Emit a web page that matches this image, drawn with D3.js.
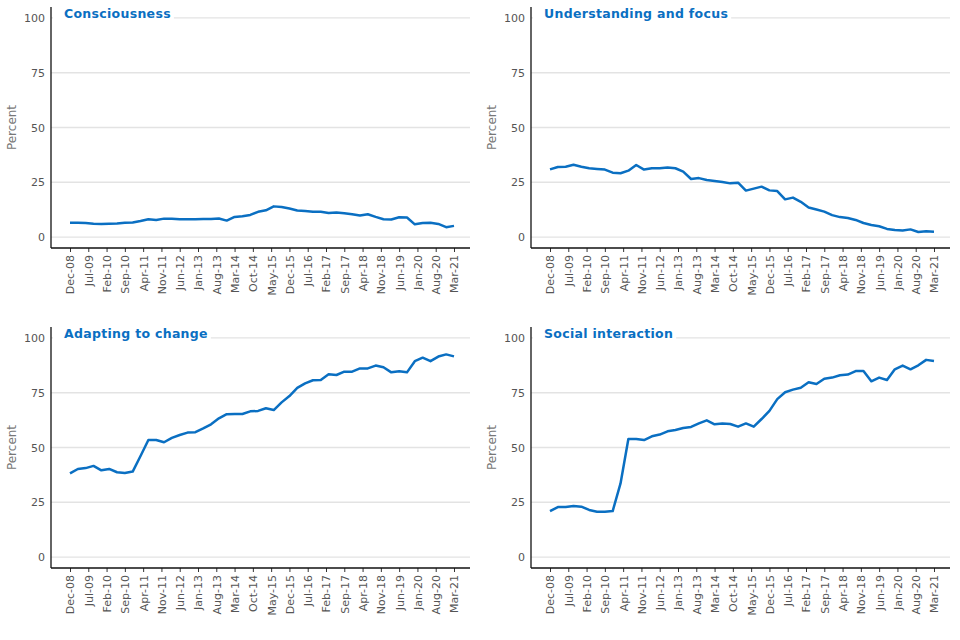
<!DOCTYPE html>
<html>
<head>
<meta charset="utf-8">
<script src="https://cdn.jsdelivr.net/npm/d3@7"></script>
<style>
  body { margin: 0; background: #fff; }
  text { font-family: "DejaVu Sans", sans-serif; }
</style>
</head>
<body>
<script>
// tick labels along the x axis, one every 7 months
const tickLabels = ["Dec-08","Jul-09","Feb-10","Sep-10","Apr-11","Nov-11","Jun-12","Jan-13",
    "Aug-13","Mar-14","Oct-14","May-15","Dec-15","Jul-16","Feb-17","Sep-17","Apr-18",
    "Nov-18","Jun-19","Jan-20","Aug-20","Mar-21"];

const titles = ["Consciousness", "Understanding and focus", "Adapting to change", "Social interaction"];

// quarterly readings, Dec-08 .. Mar-21
const consciousness = [6.5,6.5,6.4,6.1,6.0,6.1,6.2,6.5,6.6,7.3,8.1,7.8,8.4,8.4,8.1,8.1,8.1,8.2,8.2,8.5,
    7.5,9.2,9.5,10.1,11.5,12.2,14.0,13.7,13.0,12.1,11.9,11.6,11.5,11.0,11.2,10.9,10.4,9.8,10.4,9.2,
    8.1,8.0,9.0,8.9,5.8,6.4,6.5,6.0,4.5,5.1];
const understanding = [30.9,32.0,32.1,33.0,32.1,31.4,31.1,30.8,29.4,29.1,30.3,32.9,30.8,31.4,31.4,31.7,31.4,29.9,26.5,26.9,
    26.0,25.6,25.1,24.5,24.8,21.2,22.1,23.0,21.3,21.0,17.2,18.0,16.1,13.5,12.6,11.6,10.0,9.1,8.7,7.8,
    6.4,5.5,4.9,3.7,3.2,3.0,3.5,2.3,2.6,2.4];
const adapting = [38.2,40.2,40.6,41.6,39.6,40.2,38.7,38.4,39.0,46.1,53.4,53.4,52.4,54.4,55.7,56.8,57.0,58.7,60.6,63.3,
    65.2,65.3,65.3,66.5,66.7,67.9,67.1,70.6,73.5,77.2,79.3,80.7,80.8,83.4,83.1,84.6,84.6,86.1,86.1,87.4,
    86.6,84.3,84.8,84.3,89.4,91.0,89.4,91.5,92.5,91.6];
const social = [21.0,22.8,22.8,23.3,23.0,21.5,20.7,20.7,21.0,33.6,53.9,53.9,53.4,55.1,55.9,57.4,58.0,58.9,59.4,61.0,
    62.4,60.6,61.0,60.7,59.5,61.0,59.5,63.0,66.7,72.1,75.2,76.4,77.3,79.8,79.0,81.4,81.9,83.0,83.3,84.9,
    84.9,80.2,81.9,80.8,85.7,87.4,85.7,87.5,90.0,89.5];

const yTicks = [0, 25, 50, 75, 100];

const series = [consciousness, understanding, adapting, social];
const origins = [[51, 7], [531, 7], [51, 327], [531, 327]];

const blue = "#0a6fc2", grey = "#555";
const pw = 419, ph = 241;

const svg = d3.select("body").append("svg")
    .attr("width", 960)
    .attr("height", 640);

// months since Dec-08
const x = d3.scaleLinear().domain([0, 147]).range([19, 403]);
const y = d3.scaleLinear().domain([-5, 105]).range([ph, 0]);

const line = d3.line()
    .x((d, i) => x(i * 3))
    .y(d => y(d));

series.forEach(function(values, k) {
    const g = svg.append("g")
        .attr("transform", "translate(" + origins[k][0] + "," + origins[k][1] + ")");

    // gridlines
    g.selectAll(".grid")
        .data(yTicks)
        .enter().append("line")
        .attr("x1", 0).attr("x2", pw)
        .attr("y1", d => y(d)).attr("y2", d => y(d))
        .attr("stroke", "#e3e3e3")
        .attr("stroke-width", 1.3);

    // y axis labels
    const ya = g.append("g").call(d3.axisLeft(y).tickValues(yTicks).tickSize(0).tickPadding(6));
    ya.select(".domain").remove();
    ya.selectAll("text").attr("fill", grey).style("font-size", "11px");

    // x axis
    const xa = g.append("g")
        .attr("transform", "translate(0," + ph + ")")
        .call(d3.axisBottom(x)
            .tickValues(d3.range(0, 148, 7))
            .tickFormat((d, i) => tickLabels[i])
            .tickSize(4)
            .tickSizeOuter(0));
    xa.select(".domain").remove();
    xa.selectAll("line").attr("stroke", "#333");
    xa.selectAll("text")
        .attr("fill", grey)
        .style("font-size", "11px")
        .attr("transform", "rotate(-90)")
        .attr("text-anchor", "end")
        .attr("x", -7)
        .attr("y", 0)
        .attr("dy", "0.35em");

    // axis lines
    g.append("line").attr("x1", 0).attr("x2", pw).attr("y1", ph).attr("y2", ph)
        .attr("stroke", "#111").attr("stroke-width", 1.3);
    g.append("line").attr("x1", 0).attr("x2", 0).attr("y1", 0).attr("y2", ph)
        .attr("stroke", "#111").attr("stroke-width", 1.3);

    // y title
    g.append("text")
        .attr("transform", "rotate(-90)")
        .attr("x", -y(50))
        .attr("y", -35)
        .attr("text-anchor", "middle")
        .attr("fill", "#777")
        .style("font-size", "12px")
        .text("Percent");

    // data line
    g.append("path")
        .datum(values)
        .attr("fill", "none")
        .attr("stroke", blue)
        .attr("stroke-width", 2.5)
        .attr("stroke-linejoin", "round")
        .attr("d", line);

    // panel title on white patch
    const bg = g.append("rect").attr("fill", "#fff");
    const t = g.append("text")
        .attr("x", 13)
        .attr("y", 11)
        .attr("fill", blue)
        .style("font-size", "12.5px")
        .style("font-weight", "bold")
        .style("letter-spacing", "0.3px")
        .text(titles[k]);
    const bb = t.node().getBBox();
    bg.attr("x", 2).attr("y", bb.y).attr("width", bb.x + bb.width - 2 + 3).attr("height", bb.height);
});
</script>
</body>
</html>
